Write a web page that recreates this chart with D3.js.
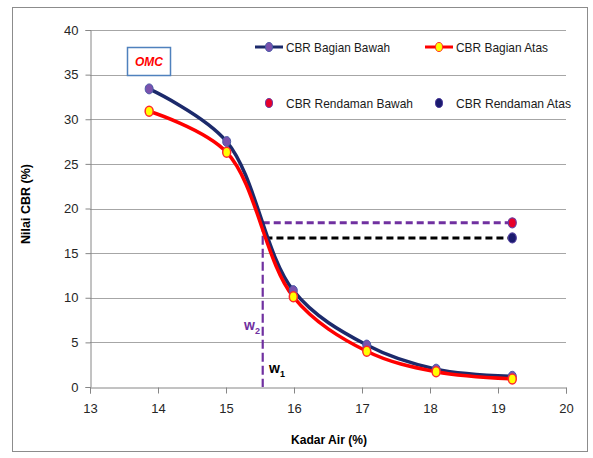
<!DOCTYPE html>
<html>
<head>
<meta charset="utf-8">
<script src="https://cdn.jsdelivr.net/npm/d3@7"></script>
<style>
  html, body { margin: 0; padding: 0; background: #fff; }
  svg { display: block; font-family: "Liberation Sans", Arial, sans-serif; }
</style>
</head>
<body>
<svg id="chart" width="593" height="458"></svg>
<script>
// Moisture content (%) and CBR values (%)
const kadarAir = [13.87, 15.01, 15.99, 17.07, 18.09, 19.21];
const cbrBagianBawah = [33.4, 27.5, 10.8, 4.7, 2.0, 1.2];
const cbrBagianAtas = [30.9, 26.3, 10.1, 4.0, 1.7, 0.9];

// Soaked CBR results
const kadarAirRendaman = [19.21];
const cbrRendamanBawah = [18.4];
const cbrRendamanAtas = [16.7];

// Moisture contents at the soaked CBR levels
const w2 = 15.54;
const w1 = 15.58;

const xTicks = [13, 14, 15, 16, 17, 18, 19, 20];
const yTicks = [0, 5, 10, 15, 20, 25, 30, 35, 40];

const svg = d3.select("#chart");

// outer frame
svg.append("rect")
  .attr("x", 12.5).attr("y", 7.5).attr("width", 575).attr("height", 444)
  .attr("fill", "#fff").attr("stroke", "#8c8c8c").attr("stroke-width", 1);

const x = d3.scaleLinear().domain([13, 20]).range([90, 566]);
const y = d3.scaleLinear().domain([0, 40]).range([387, 30]);

// horizontal gridlines
svg.append("g").selectAll("line")
  .data(yTicks.filter(d => d > 0))
  .join("line")
  .attr("x1", x(13)).attr("x2", x(20))
  .attr("y1", d => Math.round(y(d)) + 0.5).attr("y2", d => Math.round(y(d)) + 0.5)
  .attr("stroke", "#a6a6a6").attr("stroke-width", 1);

// axes
const yAxis = svg.append("g")
  .attr("transform", `translate(${x(13) + 0.5},0)`)
  .call(d3.axisLeft(y).tickValues(yTicks).tickSize(5).tickPadding(7).tickFormat(d3.format("d")));
const xAxis = svg.append("g")
  .attr("transform", `translate(0,${y(0) + 0.5})`)
  .call(d3.axisBottom(x).tickValues(xTicks).tickSize(6).tickPadding(10).tickFormat(d3.format("d")));

[yAxis, xAxis].forEach(a => {
  a.select(".domain").attr("stroke", "#868686");
  a.selectAll(".tick line").attr("stroke", "#868686");
  a.selectAll(".tick text")
    .attr("fill", "#262626")
    .style("font-size", "13px")
    .style("font-family", "'Liberation Sans', Arial, sans-serif");
});

// axis titles
svg.append("text")
  .attr("x", 329).attr("y", 444)
  .attr("text-anchor", "middle")
  .style("font-size", "12.5px").style("font-weight", "bold")
  .attr("fill", "#000")
  .attr("textLength", 76).attr("lengthAdjust", "spacingAndGlyphs")
  .text("Kadar Air (%)");

svg.append("text")
  .attr("transform", "translate(30,204) rotate(-90)")
  .attr("text-anchor", "middle")
  .style("font-size", "12.5px").style("font-weight", "bold")
  .attr("fill", "#000")
  .text("Nilai CBR (%)");

// dashed guide lines from the soaked CBR values to the curves
svg.append("line")
  .attr("x1", x(w2)).attr("x2", x(kadarAirRendaman[0]))
  .attr("y1", y(cbrRendamanBawah[0])).attr("y2", y(cbrRendamanBawah[0]))
  .attr("stroke", "#7030a0").attr("stroke-width", 3).attr("stroke-dasharray", "7,4");
svg.append("line")
  .attr("x1", x(w1)).attr("x2", x(kadarAirRendaman[0]))
  .attr("y1", y(cbrRendamanAtas[0])).attr("y2", y(cbrRendamanAtas[0]))
  .attr("stroke", "#000").attr("stroke-width", 3).attr("stroke-dasharray", "7,4");
svg.append("line")
  .attr("x1", x(w2)).attr("x2", x(w2))
  .attr("y1", y(cbrRendamanBawah[0])).attr("y2", y(0))
  .attr("stroke", "#7030a0").attr("stroke-width", 2.2).attr("stroke-dasharray", "9,4");

// smoothed CBR curves
const line = d3.line()
  .x(d => x(d[0])).y(d => y(d[1]))
  .curve(d3.curveCatmullRom.alpha(0.5));

const bawah = kadarAir.map((k, i) => [k, cbrBagianBawah[i]]);
const atas = kadarAir.map((k, i) => [k, cbrBagianAtas[i]]);

svg.append("path").datum(bawah).attr("d", line)
  .attr("fill", "none").attr("stroke", "#1c2a6b").attr("stroke-width", 3.5);
svg.append("path").datum(atas).attr("d", line)
  .attr("fill", "none").attr("stroke", "#ff0000").attr("stroke-width", 3.5);

svg.append("g").selectAll("ellipse").data(bawah).join("ellipse")
  .attr("cx", d => x(d[0])).attr("cy", d => y(d[1]))
  .attr("rx", 4).attr("ry", 5)
  .attr("fill", "#7a52ad").attr("stroke", "#4a5aa8").attr("stroke-width", 1);
svg.append("g").selectAll("ellipse").data(atas).join("ellipse")
  .attr("cx", d => x(d[0])).attr("cy", d => y(d[1]))
  .attr("rx", 4).attr("ry", 5)
  .attr("fill", "#ffff00").attr("stroke", "#ff2a2a").attr("stroke-width", 1.5);

// soaked CBR points
svg.append("g").selectAll("ellipse")
  .data(kadarAirRendaman.map((k, i) => [k, cbrRendamanBawah[i]]))
  .join("ellipse")
  .attr("cx", d => x(d[0])).attr("cy", d => y(d[1]))
  .attr("rx", 4).attr("ry", 5)
  .attr("fill", "#e8002a").attr("stroke", "#6a3aa0").attr("stroke-width", 1.2);
svg.append("g").selectAll("ellipse")
  .data(kadarAirRendaman.map((k, i) => [k, cbrRendamanAtas[i]]))
  .join("ellipse")
  .attr("cx", d => x(d[0])).attr("cy", d => y(d[1]))
  .attr("rx", 4).attr("ry", 5)
  .attr("fill", "#1a1a6e").attr("stroke", "#4a3a9a").attr("stroke-width", 1.2);

// w labels
const w2Label = svg.append("text")
  .attr("x", 244).attr("y", 330)
  .attr("fill", "#7030a0").style("font-weight", "bold").style("font-size", "14px");
w2Label.append("tspan").text("w");
w2Label.append("tspan").attr("dy", 4).style("font-size", "9px").text("2");

const w1Label = svg.append("text")
  .attr("x", 269).attr("y", 373)
  .attr("fill", "#000").style("font-weight", "bold").style("font-size", "14px");
w1Label.append("tspan").text("w");
w1Label.append("tspan").attr("dy", 4).style("font-size", "9px").text("1");

// OMC label box
svg.append("rect")
  .attr("x", 127.5).attr("y", 47.5).attr("width", 43).attr("height", 28)
  .attr("fill", "#fff").attr("stroke", "#4f81bd").attr("stroke-width", 1.5);
svg.append("text")
  .attr("x", 149).attr("y", 66)
  .attr("text-anchor", "middle")
  .attr("fill", "#ff0000")
  .style("font-size", "12px").style("font-weight", "bold").style("font-style", "italic")
  .text("OMC");

// legend
const legendItems = [
  { label: "CBR Bagian Bawah", width: 104, lx: 255, ly: 47, line: "#1c2a6b", fill: "#7a52ad", stroke: "#4a5aa8" },
  { label: "CBR Bagian Atas", width: 92, lx: 425, ly: 47, line: "#ff0000", fill: "#ffff00", stroke: "#ff2a2a" },
  { label: "CBR Rendaman Bawah", width: 127, lx: 255, ly: 103, line: null, fill: "#e8002a", stroke: "#6a3aa0" },
  { label: "CBR Rendaman Atas", width: 115, lx: 425, ly: 103, line: null, fill: "#1a1a6e", stroke: "#4a3a9a" }
];
const legend = svg.append("g").selectAll("g").data(legendItems).join("g");
legend.filter(d => d.line).append("line")
  .attr("x1", d => d.lx).attr("x2", d => d.lx + 28)
  .attr("y1", d => d.ly).attr("y2", d => d.ly)
  .attr("stroke", d => d.line).attr("stroke-width", 3);
legend.append("ellipse")
  .attr("cx", d => d.lx + 14).attr("cy", d => d.ly)
  .attr("rx", 3.5).attr("ry", 4.5)
  .attr("fill", d => d.fill).attr("stroke", d => d.stroke).attr("stroke-width", 1);
legend.append("text")
  .attr("x", d => d.lx + 31).attr("y", d => d.ly + 5)
  .attr("fill", "#1a1a1a")
  .style("font-size", "13.5px")
  .attr("textLength", d => d.width).attr("lengthAdjust", "spacingAndGlyphs")
  .text(d => d.label);
</script>
</body>
</html>
